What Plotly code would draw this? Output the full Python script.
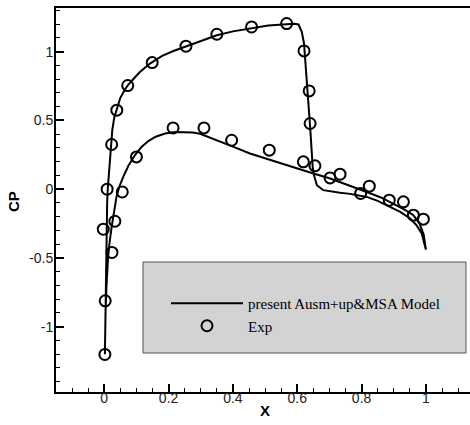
import plotly.graph_objects as go

# Computed Cp (present Ausm+up&MSA Model) - lower branch (from leading edge to trailing edge)
lower_x = [0.002, 0.004, 0.007, 0.012, 0.017, 0.023, 0.030, 0.038, 0.047, 0.059, 0.075, 0.095,
           0.115, 0.137, 0.160, 0.189, 0.220, 0.246, 0.275, 0.298, 0.325, 0.350, 0.400, 0.453,
           0.500, 0.557, 0.609, 0.650, 0.700, 0.733, 0.780, 0.816, 0.860, 0.899, 0.935, 0.961,
           0.980, 0.993, 1.000]
lower_y = [-1.200, -0.900, -0.700, -0.490, -0.380, -0.274, -0.160, -0.056, 0.020, 0.090, 0.170, 0.247,
           0.305, 0.350, 0.382, 0.405, 0.416, 0.417, 0.412, 0.403, 0.380, 0.356, 0.310, 0.260,
           0.225, 0.187, 0.145, 0.114, 0.080, 0.053, 0.010, -0.020, -0.060, -0.104, -0.150, -0.189,
           -0.250, -0.330, -0.440]

# upper branch (from leading edge to trailing edge)
upper_x = [0.002, 0.003, 0.004, 0.005, 0.007, 0.009, 0.011, 0.016, 0.021, 0.025, 0.031, 0.039,
           0.050, 0.063, 0.073, 0.090, 0.110, 0.142, 0.180, 0.215, 0.251, 0.300, 0.350, 0.400,
           0.458, 0.510, 0.567, 0.590, 0.604, 0.614, 0.621, 0.632, 0.640, 0.648, 0.652, 0.661,
           0.681, 0.733, 0.764, 0.795, 0.816, 0.850, 0.889, 0.920, 0.951, 0.970, 0.987, 1.000]
upper_y = [-1.200, -1.000, -0.810, -0.550, -0.300, -0.100, 0.005, 0.187, 0.330, 0.430, 0.520, 0.590,
           0.665, 0.720, 0.755, 0.800, 0.850, 0.914, 0.970, 1.005, 1.035, 1.080, 1.120, 1.148,
           1.173, 1.190, 1.200, 1.203, 1.198, 1.144, 1.060, 0.744, 0.453, 0.162, 0.102, 0.029,
           -0.007, -0.026, -0.034, -0.048, -0.056, -0.085, -0.129, -0.165, -0.213, -0.260, -0.322, -0.440]

# Experimental data
exp_x = [0.002, 0.003, -0.003, 0.024, 0.033, 0.009, 0.056, 0.023, 0.100, 0.039, 0.073, 0.149,
         0.214, 0.254, 0.310, 0.350, 0.396, 0.458, 0.513, 0.567, 0.621, 0.637, 0.640, 0.619,
         0.655, 0.702, 0.733, 0.797, 0.824, 0.886, 0.930, 0.961, 0.992]
exp_y = [-1.202, -0.812, -0.291, -0.460, -0.233, 0.000, -0.020, 0.325, 0.235, 0.575, 0.754, 0.921,
         0.446, 1.040, 0.446, 1.127, 0.356, 1.180, 0.284, 1.205, 1.006, 0.715, 0.478, 0.199,
         0.170, 0.082, 0.109, -0.031, 0.022, -0.080, -0.092, -0.189, -0.218]

line_x = lower_x[::-1] + upper_x[1:]
line_y = lower_y[::-1] + upper_y[1:]

fig = go.Figure()
fig.add_trace(go.Scatter(x=line_x, y=line_y, mode="lines",
                         line=dict(color="black", width=2),
                         name="present Ausm+up&MSA Model"))
fig.add_trace(go.Scatter(x=exp_x, y=exp_y, mode="markers",
                         marker=dict(symbol="circle-open", size=11, color="black",
                                     line=dict(width=2, color="black")),
                         name="Exp"))

W, H = 470, 425
L, R, T, B = 56, 0, 8, 33
pw, ph = W - L - R, H - T - B

def px(xp):
    return (xp - L) / pw

def py(yp):
    return (H - B - yp) / ph

fig.add_shape(type="rect", xref="paper", yref="paper",
              x0=px(143), x1=px(466), y0=py(353), y1=py(262),
              fillcolor="#d3d3d3", line=dict(color="#555555", width=1), layer="below")

fig.update_layout(
    width=W, height=H,
    margin=dict(l=L, r=R, t=T, b=B),
    plot_bgcolor="white", paper_bgcolor="white",
    showlegend=True,
    legend=dict(x=px(166), y=py(287), xanchor="left", yanchor="top",
                bgcolor="rgba(0,0,0,0)", borderwidth=0,
                font=dict(family="Liberation Serif, Times New Roman, serif", size=15, color="black"),
                itemwidth=72, tracegroupgap=0),
    xaxis=dict(range=[-0.15, 1.137], showgrid=False, zeroline=False,
               tickvals=[0, 0.2, 0.4, 0.6, 0.8, 1], ticktext=["0", "0.2", "0.4", "0.6", "0.8", "1"],
               ticks="inside", ticklen=8, tickwidth=2, tickcolor="black",
               minor=dict(dtick=0.05, tick0=0, ticks="inside", ticklen=4, tickwidth=1, tickcolor="black"),
               showline=True, linecolor="black", linewidth=2, mirror=True,
               ticklabelstandoff=-8,
               tickfont=dict(family="Liberation Sans, Arial, sans-serif", size=14, color="#222")),
    yaxis=dict(range=[-1.475, 1.318], showgrid=False, zeroline=False,
               tickvals=[-1, -0.5, 0, 0.5, 1], ticktext=["-1", "-0.5", "0", "0.5", "1"],
               ticks="inside", ticklen=8, tickwidth=2, tickcolor="black",
               minor=dict(dtick=0.1, tick0=0, ticks="inside", ticklen=4, tickwidth=1, tickcolor="black"),
               showline=True, linecolor="black", linewidth=2, mirror=False,
               ticklabelstandoff=-2,
               tickfont=dict(family="Liberation Sans, Arial, sans-serif", size=14, color="#222")),
    annotations=[
        dict(text="<b>X</b>", xref="paper", yref="paper", x=px(265), y=py(410),
             xanchor="center", yanchor="middle", showarrow=False,
             font=dict(family="Liberation Sans, Arial, sans-serif", size=15, color="black")),
        dict(text="<b>CP</b>", xref="paper", yref="paper", x=px(14), y=py(202),
             xanchor="center", yanchor="middle", showarrow=False, textangle=-90,
             font=dict(family="Liberation Sans, Arial, sans-serif", size=15, color="black")),
    ],
)

fig.write_html("out.html")
